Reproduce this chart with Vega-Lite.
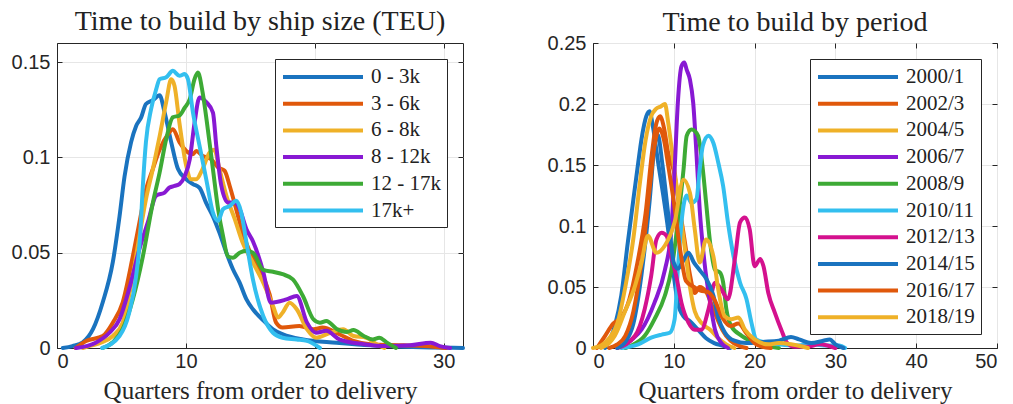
{
"$schema": "https://vega.github.io/schema/vega-lite/v6.json",
"background": "white",
"padding": {"left": 10, "top": 7, "right": 5, "bottom": 0},
"config": {
 "view": {"stroke": "#262626", "strokeWidth": 1},
 "axis": {"labelFont": "Liberation Sans", "labelFontSize": 20, "labelColor": "#262626", "domainColor": "#262626", "tickColor": "#262626", "gridColor": "#e6e6e6", "titleFont": "Liberation Serif", "titleFontSize": 25, "titleFontWeight": "normal", "titleColor": "#262626", "tickSize": -5, "labelPadding": 12},
 "axisX": {"labelPadding": 8},
 "title": {"font": "Liberation Serif", "fontSize": 28, "fontWeight": "normal", "color": "#222222"},
 "legend": {"title": null, "orient": "top-right", "offset": 16, "symbolType": "M-1,0H7", "symbolSize": 400, "symbolStrokeWidth": 4, "labelFont": "Liberation Serif", "labelFontSize": 21, "labelColor": "#222222", "labelOffset": 66, "padding": 6, "rowPadding": 4.7, "strokeColor": "#262626", "fillColor": "white", "labelLimit": 300}
},
"datasets": {
 "size": [
{"g":"0 - 3k","q":0.45,"d":0},{"g":"0 - 3k","q":1.2,"d":0.001},{"g":"0 - 3k","q":2,"d":0.003},{"g":"0 - 3k","q":2.8,"d":0.01},{"g":"0 - 3k","q":3.55,"d":0.024},{"g":"0 - 3k","q":4.33,"d":0.045},{"g":"0 - 3k","q":4.85,"d":0.069},{"g":"0 - 3k","q":5.24,"d":0.09},{"g":"0 - 3k","q":5.75,"d":0.108},{"g":"0 - 3k","q":6.14,"d":0.1165},{"g":"0 - 3k","q":6.53,"d":0.121},{"g":"0 - 3k","q":6.9,"d":0.128},{"g":"0 - 3k","q":7.44,"d":0.13},{"g":"0 - 3k","q":7.96,"d":0.1326},{"g":"0 - 3k","q":8.35,"d":0.1235},{"g":"0 - 3k","q":8.86,"d":0.108},{"g":"0 - 3k","q":9.38,"d":0.094},{"g":"0 - 3k","q":10.03,"d":0.0885},{"g":"0 - 3k","q":10.55,"d":0.086},{"g":"0 - 3k","q":11.06,"d":0.084},{"g":"0 - 3k","q":11.58,"d":0.076},{"g":"0 - 3k","q":12.1,"d":0.069},{"g":"0 - 3k","q":12.6,"d":0.0605},{"g":"0 - 3k","q":13.14,"d":0.05},{"g":"0 - 3k","q":13.65,"d":0.0413},{"g":"0 - 3k","q":14.17,"d":0.0343},{"g":"0 - 3k","q":14.7,"d":0.0255},{"g":"0 - 3k","q":15.2,"d":0.0203},{"g":"0 - 3k","q":16,"d":0.0145},{"g":"0 - 3k","q":16.76,"d":0.0098},{"g":"0 - 3k","q":17.53,"d":0.0072},{"g":"0 - 3k","q":19.1,"d":0.0045},{"g":"0 - 3k","q":21.7,"d":0.0028},{"g":"0 - 3k","q":24.3,"d":0.0014},{"g":"0 - 3k","q":26.9,"d":0.0007},{"g":"0 - 3k","q":29,"d":0.0003},{"g":"0 - 3k","q":31.5,"d":0},
{"g":"3 - 6k","q":1.45,"d":0},{"g":"3 - 6k","q":2.26,"d":0.0037},{"g":"3 - 6k","q":3.55,"d":0.0063},{"g":"3 - 6k","q":4.33,"d":0.0133},{"g":"3 - 6k","q":5.1,"d":0.024},{"g":"3 - 6k","q":5.88,"d":0.048},{"g":"3 - 6k","q":6.4,"d":0.066},{"g":"3 - 6k","q":6.9,"d":0.083},{"g":"3 - 6k","q":7.44,"d":0.094},{"g":"3 - 6k","q":7.96,"d":0.104},{"g":"3 - 6k","q":8.6,"d":0.112},{"g":"3 - 6k","q":8.99,"d":0.1148},{"g":"3 - 6k","q":9.5,"d":0.108},{"g":"3 - 6k","q":10.03,"d":0.1034},{"g":"3 - 6k","q":10.55,"d":0.1017},{"g":"3 - 6k","q":10.8,"d":0.1034},{"g":"3 - 6k","q":11.3,"d":0.1008},{"g":"3 - 6k","q":11.97,"d":0.099},{"g":"3 - 6k","q":12.5,"d":0.0947},{"g":"3 - 6k","q":13,"d":0.093},{"g":"3 - 6k","q":13.4,"d":0.085},{"g":"3 - 6k","q":13.9,"d":0.0728},{"g":"3 - 6k","q":14.4,"d":0.0605},{"g":"3 - 6k","q":15.2,"d":0.047},{"g":"3 - 6k","q":15.98,"d":0.0378},{"g":"3 - 6k","q":16.5,"d":0.028},{"g":"3 - 6k","q":17,"d":0.0133},{"g":"3 - 6k","q":17.5,"d":0.0107},{"g":"3 - 6k","q":18.8,"d":0.0115},{"g":"3 - 6k","q":19.9,"d":0.0098},{"g":"3 - 6k","q":20.6,"d":0.0107},{"g":"3 - 6k","q":21.9,"d":0.0072},{"g":"3 - 6k","q":23,"d":0.0037},{"g":"3 - 6k","q":24.3,"d":0.002},{"g":"3 - 6k","q":26.9,"d":0.0014},{"g":"3 - 6k","q":29.2,"d":0.0007},{"g":"3 - 6k","q":30.2,"d":0},
{"g":"6 - 8k","q":2,"d":0},{"g":"6 - 8k","q":2.5,"d":0.001},{"g":"6 - 8k","q":3.5,"d":0.003},{"g":"6 - 8k","q":4.33,"d":0.0063},{"g":"6 - 8k","q":5.1,"d":0.0133},{"g":"6 - 8k","q":5.88,"d":0.0378},{"g":"6 - 8k","q":6.4,"d":0.0588},{"g":"6 - 8k","q":6.9,"d":0.078},{"g":"6 - 8k","q":7.44,"d":0.094},{"g":"6 - 8k","q":7.96,"d":0.111},{"g":"6 - 8k","q":8.47,"d":0.129},{"g":"6 - 8k","q":8.86,"d":0.141},{"g":"6 - 8k","q":9.12,"d":0.1375},{"g":"6 - 8k","q":9.5,"d":0.118},{"g":"6 - 8k","q":10.03,"d":0.0955},{"g":"6 - 8k","q":10.42,"d":0.0885},{"g":"6 - 8k","q":10.8,"d":0.0885},{"g":"6 - 8k","q":11.3,"d":0.094},{"g":"6 - 8k","q":11.84,"d":0.1025},{"g":"6 - 8k","q":12.2,"d":0.104},{"g":"6 - 8k","q":12.6,"d":0.094},{"g":"6 - 8k","q":13.14,"d":0.08},{"g":"6 - 8k","q":13.8,"d":0.0675},{"g":"6 - 8k","q":14.4,"d":0.0553},{"g":"6 - 8k","q":15.2,"d":0.0448},{"g":"6 - 8k","q":16,"d":0.0343},{"g":"6 - 8k","q":16.76,"d":0.022},{"g":"6 - 8k","q":17.15,"d":0.016},{"g":"6 - 8k","q":17.5,"d":0.0185},{"g":"6 - 8k","q":18.05,"d":0.0238},{"g":"6 - 8k","q":18.6,"d":0.0203},{"g":"6 - 8k","q":19.4,"d":0.0098},{"g":"6 - 8k","q":20.1,"d":0.0054},{"g":"6 - 8k","q":21.2,"d":0.008},{"g":"6 - 8k","q":22.2,"d":0.0098},{"g":"6 - 8k","q":23,"d":0.0063},{"g":"6 - 8k","q":24,"d":0.0054},{"g":"6 - 8k","q":24.8,"d":0.002},{"g":"6 - 8k","q":25.4,"d":0},
{"g":"8 - 12k","q":1.48,"d":0},{"g":"8 - 12k","q":3,"d":0.0028},{"g":"8 - 12k","q":4.07,"d":0.008},{"g":"8 - 12k","q":4.85,"d":0.015},{"g":"8 - 12k","q":5.6,"d":0.031},{"g":"8 - 12k","q":6.4,"d":0.052},{"g":"8 - 12k","q":7.05,"d":0.066},{"g":"8 - 12k","q":7.7,"d":0.08},{"g":"8 - 12k","q":8.35,"d":0.0815},{"g":"8 - 12k","q":8.73,"d":0.0842},{"g":"8 - 12k","q":9.12,"d":0.085},{"g":"8 - 12k","q":9.5,"d":0.086},{"g":"8 - 12k","q":9.9,"d":0.09},{"g":"8 - 12k","q":10.3,"d":0.099},{"g":"8 - 12k","q":10.67,"d":0.118},{"g":"8 - 12k","q":11.06,"d":0.1314},{"g":"8 - 12k","q":11.58,"d":0.129},{"g":"8 - 12k","q":12.1,"d":0.1235},{"g":"8 - 12k","q":12.36,"d":0.106},{"g":"8 - 12k","q":12.75,"d":0.085},{"g":"8 - 12k","q":13.27,"d":0.0763},{"g":"8 - 12k","q":13.8,"d":0.0763},{"g":"8 - 12k","q":14.17,"d":0.0728},{"g":"8 - 12k","q":14.7,"d":0.0623},{"g":"8 - 12k","q":15.2,"d":0.056},{"g":"8 - 12k","q":16,"d":0.04},{"g":"8 - 12k","q":16.6,"d":0.0238},{"g":"8 - 12k","q":17.8,"d":0.0255},{"g":"8 - 12k","q":18.6,"d":0.0273},{"g":"8 - 12k","q":19.4,"d":0.0133},{"g":"8 - 12k","q":20.1,"d":0.008},{"g":"8 - 12k","q":20.9,"d":0.009},{"g":"8 - 12k","q":21.9,"d":0.0045},{"g":"8 - 12k","q":23.8,"d":0.002},{"g":"8 - 12k","q":25.6,"d":0.001},{"g":"8 - 12k","q":27.4,"d":0.0014},{"g":"8 - 12k","q":29,"d":0.0028},{"g":"8 - 12k","q":29.7,"d":0.001},{"g":"8 - 12k","q":30.5,"d":0},
{"g":"12 - 17k","q":3.55,"d":0},{"g":"12 - 17k","q":4.33,"d":0.003},{"g":"12 - 17k","q":5.1,"d":0.01},{"g":"12 - 17k","q":5.88,"d":0.0255},{"g":"12 - 17k","q":6.66,"d":0.048},{"g":"12 - 17k","q":7.44,"d":0.0763},{"g":"12 - 17k","q":7.96,"d":0.092},{"g":"12 - 17k","q":8.47,"d":0.1095},{"g":"12 - 17k","q":8.99,"d":0.121},{"g":"12 - 17k","q":9.5,"d":0.122},{"g":"12 - 17k","q":9.9,"d":0.126},{"g":"12 - 17k","q":10.3,"d":0.1305},{"g":"12 - 17k","q":10.67,"d":0.141},{"g":"12 - 17k","q":10.93,"d":0.1445},{"g":"12 - 17k","q":11.3,"d":0.134},{"g":"12 - 17k","q":11.7,"d":0.1148},{"g":"12 - 17k","q":12.1,"d":0.0938},{"g":"12 - 17k","q":12.5,"d":0.0728},{"g":"12 - 17k","q":12.88,"d":0.0588},{"g":"12 - 17k","q":13.27,"d":0.048},{"g":"12 - 17k","q":13.65,"d":0.0474},{"g":"12 - 17k","q":14.17,"d":0.05},{"g":"12 - 17k","q":14.7,"d":0.051},{"g":"12 - 17k","q":15.2,"d":0.05},{"g":"12 - 17k","q":16,"d":0.041},{"g":"12 - 17k","q":16.76,"d":0.04},{"g":"12 - 17k","q":17.5,"d":0.0387},{"g":"12 - 17k","q":18.3,"d":0.036},{"g":"12 - 17k","q":19.1,"d":0.027},{"g":"12 - 17k","q":19.9,"d":0.015},{"g":"12 - 17k","q":20.4,"d":0.0133},{"g":"12 - 17k","q":20.9,"d":0.0142},{"g":"12 - 17k","q":21.7,"d":0.01},{"g":"12 - 17k","q":22.5,"d":0.0084},{"g":"12 - 17k","q":23,"d":0.0094},{"g":"12 - 17k","q":23.8,"d":0.0063},{"g":"12 - 17k","q":24.5,"d":0.0045},{"g":"12 - 17k","q":25,"d":0.0054},{"g":"12 - 17k","q":25.6,"d":0.0028},{"g":"12 - 17k","q":26.3,"d":0},
{"g":"17k+","q":3.5,"d":0},{"g":"17k+","q":4.85,"d":0.0063},{"g":"17k+","q":5.6,"d":0.0185},{"g":"17k+","q":6.14,"d":0.0378},{"g":"17k+","q":6.45,"d":0.0588},{"g":"17k+","q":6.66,"d":0.085},{"g":"17k+","q":6.9,"d":0.108},{"g":"17k+","q":7.3,"d":0.1253},{"g":"17k+","q":7.7,"d":0.1358},{"g":"17k+","q":7.96,"d":0.141},{"g":"17k+","q":8.47,"d":0.142},{"g":"17k+","q":8.99,"d":0.1454},{"g":"17k+","q":9.5,"d":0.1428},{"g":"17k+","q":9.9,"d":0.1437},{"g":"17k+","q":10.16,"d":0.141},{"g":"17k+","q":10.55,"d":0.1235},{"g":"17k+","q":11.06,"d":0.106},{"g":"17k+","q":11.58,"d":0.0885},{"g":"17k+","q":12.1,"d":0.071},{"g":"17k+","q":12.5,"d":0.0667},{"g":"17k+","q":12.88,"d":0.0728},{"g":"17k+","q":13.4,"d":0.0745},{"g":"17k+","q":13.9,"d":0.0772},{"g":"17k+","q":14.3,"d":0.071},{"g":"17k+","q":14.7,"d":0.0553},{"g":"17k+","q":15.2,"d":0.036},{"g":"17k+","q":16,"d":0.0168},{"g":"17k+","q":16.76,"d":0.008},{"g":"17k+","q":17.5,"d":0.0054},{"g":"17k+","q":18.6,"d":0.0045},{"g":"17k+","q":19.4,"d":0.0037},{"g":"17k+","q":20.4,"d":0}
 ],
 "period": [
{"g":"2000/1","q":1.5,"d":0},{"g":"2000/1","q":2.7,"d":0.018},{"g":"2000/1","q":3.5,"d":0.043},{"g":"2000/1","q":4.3,"d":0.086},{"g":"2000/1","q":5,"d":0.122},{"g":"2000/1","q":5.6,"d":0.152},{"g":"2000/1","q":6,"d":0.171},{"g":"2000/1","q":6.6,"d":0.19},{"g":"2000/1","q":7,"d":0.194},{"g":"2000/1","q":7.4,"d":0.182},{"g":"2000/1","q":8.06,"d":0.152},{"g":"2000/1","q":8.7,"d":0.125},{"g":"2000/1","q":9.3,"d":0.097},{"g":"2000/1","q":9.9,"d":0.0645},{"g":"2000/1","q":10.5,"d":0.037},{"g":"2000/1","q":11.2,"d":0.026},{"g":"2000/1","q":12,"d":0.022},{"g":"2000/1","q":13,"d":0.015},{"g":"2000/1","q":14,"d":0.008},{"g":"2000/1","q":15,"d":0.004},{"g":"2000/1","q":16,"d":0.002},{"g":"2000/1","q":17,"d":0},
{"g":"2002/3","q":0.5,"d":0},{"g":"2002/3","q":1.5,"d":0.01},{"g":"2002/3","q":2.5,"d":0.02},{"g":"2002/3","q":3.5,"d":0.025},{"g":"2002/3","q":4.5,"d":0.04},{"g":"2002/3","q":5.5,"d":0.07},{"g":"2002/3","q":6.5,"d":0.11},{"g":"2002/3","q":7.3,"d":0.16},{"g":"2002/3","q":7.8,"d":0.183},{"g":"2002/3","q":8.3,"d":0.19},{"g":"2002/3","q":8.8,"d":0.18},{"g":"2002/3","q":9.3,"d":0.16},{"g":"2002/3","q":10,"d":0.145},{"g":"2002/3","q":10.6,"d":0.12},{"g":"2002/3","q":11.3,"d":0.09},{"g":"2002/3","q":12,"d":0.06},{"g":"2002/3","q":12.6,"d":0.045},{"g":"2002/3","q":13.2,"d":0.05},{"g":"2002/3","q":14,"d":0.046},{"g":"2002/3","q":15,"d":0.03},{"g":"2002/3","q":16,"d":0.015},{"g":"2002/3","q":17,"d":0.006},{"g":"2002/3","q":18,"d":0.002},{"g":"2002/3","q":19,"d":0},
{"g":"2004/5","q":0,"d":0},{"g":"2004/5","q":1,"d":0.002},{"g":"2004/5","q":2,"d":0.008},{"g":"2004/5","q":3,"d":0.02},{"g":"2004/5","q":4,"d":0.05},{"g":"2004/5","q":5,"d":0.09},{"g":"2004/5","q":5.8,"d":0.135},{"g":"2004/5","q":6.5,"d":0.17},{"g":"2004/5","q":7.2,"d":0.19},{"g":"2004/5","q":7.8,"d":0.196},{"g":"2004/5","q":8.4,"d":0.198},{"g":"2004/5","q":8.9,"d":0.2},{"g":"2004/5","q":9.3,"d":0.185},{"g":"2004/5","q":9.8,"d":0.16},{"g":"2004/5","q":10.3,"d":0.135},{"g":"2004/5","q":11,"d":0.1},{"g":"2004/5","q":11.5,"d":0.075},{"g":"2004/5","q":12,"d":0.05},{"g":"2004/5","q":12.6,"d":0.03},{"g":"2004/5","q":13.5,"d":0.02},{"g":"2004/5","q":14.5,"d":0.015},{"g":"2004/5","q":15.5,"d":0.008},{"g":"2004/5","q":16.5,"d":0.003},{"g":"2004/5","q":17.5,"d":0},
{"g":"2006/7","q":3,"d":0},{"g":"2006/7","q":4,"d":0.003},{"g":"2006/7","q":5,"d":0.008},{"g":"2006/7","q":6,"d":0.015},{"g":"2006/7","q":7.6,"d":0.037},{"g":"2006/7","q":8.9,"d":0.064},{"g":"2006/7","q":9.7,"d":0.097},{"g":"2006/7","q":10.1,"d":0.146},{"g":"2006/7","q":10.5,"d":0.201},{"g":"2006/7","q":10.95,"d":0.231},{"g":"2006/7","q":11.3,"d":0.234},{"g":"2006/7","q":11.6,"d":0.228},{"g":"2006/7","q":12,"d":0.22},{"g":"2006/7","q":12.4,"d":0.201},{"g":"2006/7","q":12.8,"d":0.16},{"g":"2006/7","q":13.2,"d":0.114},{"g":"2006/7","q":13.8,"d":0.07},{"g":"2006/7","q":14.5,"d":0.037},{"g":"2006/7","q":15.1,"d":0.015},{"g":"2006/7","q":15.9,"d":0.004},{"g":"2006/7","q":16.7,"d":0},
{"g":"2008/9","q":4,"d":0},{"g":"2008/9","q":4.75,"d":0.002},{"g":"2008/9","q":6.4,"d":0.01},{"g":"2008/9","q":7.6,"d":0.0235},{"g":"2008/9","q":8.9,"d":0.043},{"g":"2008/9","q":9.7,"d":0.064},{"g":"2008/9","q":10.5,"d":0.103},{"g":"2008/9","q":11.2,"d":0.146},{"g":"2008/9","q":11.6,"d":0.174},{"g":"2008/9","q":12.2,"d":0.179},{"g":"2008/9","q":13,"d":0.174},{"g":"2008/9","q":13.6,"d":0.146},{"g":"2008/9","q":14,"d":0.119},{"g":"2008/9","q":14.5,"d":0.086},{"g":"2008/9","q":15.1,"d":0.064},{"g":"2008/9","q":15.7,"d":0.062},{"g":"2008/9","q":16.1,"d":0.054},{"g":"2008/9","q":16.5,"d":0.032},{"g":"2008/9","q":17.1,"d":0.018},{"g":"2008/9","q":18.4,"d":0.01},{"g":"2008/9","q":20,"d":0.0045},{"g":"2008/9","q":21.7,"d":0.0015},{"g":"2008/9","q":23,"d":0},
{"g":"2010/11","q":3.5,"d":0},{"g":"2010/11","q":5.6,"d":0.003},{"g":"2010/11","q":7.2,"d":0.0085},{"g":"2010/11","q":8.5,"d":0.011},{"g":"2010/11","q":9.5,"d":0.0125},{"g":"2010/11","q":10.1,"d":0.0235},{"g":"2010/11","q":10.5,"d":0.064},{"g":"2010/11","q":10.95,"d":0.103},{"g":"2010/11","q":11.6,"d":0.125},{"g":"2010/11","q":12.2,"d":0.119},{"g":"2010/11","q":12.8,"d":0.122},{"g":"2010/11","q":13.2,"d":0.146},{"g":"2010/11","q":13.6,"d":0.166},{"g":"2010/11","q":14.3,"d":0.174},{"g":"2010/11","q":14.9,"d":0.168},{"g":"2010/11","q":15.5,"d":0.152},{"g":"2010/11","q":16.1,"d":0.133},{"g":"2010/11","q":16.7,"d":0.103},{"g":"2010/11","q":17.4,"d":0.075},{"g":"2010/11","q":18.2,"d":0.0535},{"g":"2010/11","q":19,"d":0.04},{"g":"2010/11","q":19.6,"d":0.021},{"g":"2010/11","q":20.2,"d":0.007},{"g":"2010/11","q":21.3,"d":0.0045},{"g":"2010/11","q":23,"d":0.003},{"g":"2010/11","q":25,"d":0.002},{"g":"2010/11","q":27,"d":0.003},{"g":"2010/11","q":29,"d":0.002},{"g":"2010/11","q":30.5,"d":0.002},{"g":"2010/11","q":31.2,"d":0},
{"g":"2012/13","q":3,"d":0},{"g":"2012/13","q":5.2,"d":0.01},{"g":"2012/13","q":6.4,"d":0.032},{"g":"2012/13","q":7.2,"d":0.059},{"g":"2012/13","q":7.85,"d":0.089},{"g":"2012/13","q":8.5,"d":0.0945},{"g":"2012/13","q":9.1,"d":0.092},{"g":"2012/13","q":9.7,"d":0.075},{"g":"2012/13","q":10.3,"d":0.059},{"g":"2012/13","q":10.95,"d":0.037},{"g":"2012/13","q":11.8,"d":0.021},{"g":"2012/13","q":12.6,"d":0.015},{"g":"2012/13","q":13.4,"d":0.015},{"g":"2012/13","q":14.3,"d":0.032},{"g":"2012/13","q":15.1,"d":0.0535},{"g":"2012/13","q":15.9,"d":0.048},{"g":"2012/13","q":16.7,"d":0.04},{"g":"2012/13","q":17.6,"d":0.075},{"g":"2012/13","q":18.2,"d":0.103},{"g":"2012/13","q":18.8,"d":0.107},{"g":"2012/13","q":19.4,"d":0.097},{"g":"2012/13","q":20,"d":0.067},{"g":"2012/13","q":20.7,"d":0.073},{"g":"2012/13","q":21.1,"d":0.067},{"g":"2012/13","q":21.7,"d":0.045},{"g":"2012/13","q":22.5,"d":0.029},{"g":"2012/13","q":23.3,"d":0.015},{"g":"2012/13","q":24,"d":0.0045},{"g":"2012/13","q":25,"d":0.001},{"g":"2012/13","q":26.5,"d":0.001},{"g":"2012/13","q":28,"d":0.003},{"g":"2012/13","q":29,"d":0.002},{"g":"2012/13","q":30,"d":0},
{"g":"2014/15","q":3,"d":0},{"g":"2014/15","q":4,"d":0.005},{"g":"2014/15","q":5,"d":0.02},{"g":"2014/15","q":6,"d":0.06},{"g":"2014/15","q":7,"d":0.12},{"g":"2014/15","q":7.6,"d":0.165},{"g":"2014/15","q":8,"d":0.175},{"g":"2014/15","q":8.6,"d":0.15},{"g":"2014/15","q":9.3,"d":0.11},{"g":"2014/15","q":10,"d":0.07},{"g":"2014/15","q":10.5,"d":0.065},{"g":"2014/15","q":11.2,"d":0.072},{"g":"2014/15","q":11.8,"d":0.078},{"g":"2014/15","q":12.5,"d":0.07},{"g":"2014/15","q":13.3,"d":0.063},{"g":"2014/15","q":14,"d":0.057},{"g":"2014/15","q":14.9,"d":0.043},{"g":"2014/15","q":15.5,"d":0.025},{"g":"2014/15","q":16.3,"d":0.013},{"g":"2014/15","q":17.5,"d":0.006},{"g":"2014/15","q":19,"d":0.004},{"g":"2014/15","q":21,"d":0.005},{"g":"2014/15","q":23,"d":0.006},{"g":"2014/15","q":24.5,"d":0.009},{"g":"2014/15","q":25.5,"d":0.007},{"g":"2014/15","q":27,"d":0.004},{"g":"2014/15","q":28.5,"d":0.006},{"g":"2014/15","q":29.3,"d":0.007},{"g":"2014/15","q":30,"d":0.003},{"g":"2014/15","q":31,"d":0},
{"g":"2016/17","q":2,"d":0},{"g":"2016/17","q":3,"d":0.003},{"g":"2016/17","q":4,"d":0.01},{"g":"2016/17","q":5,"d":0.03},{"g":"2016/17","q":6,"d":0.07},{"g":"2016/17","q":7,"d":0.13},{"g":"2016/17","q":7.6,"d":0.165},{"g":"2016/17","q":8.2,"d":0.18},{"g":"2016/17","q":8.8,"d":0.17},{"g":"2016/17","q":9.3,"d":0.15},{"g":"2016/17","q":10,"d":0.12},{"g":"2016/17","q":10.8,"d":0.08},{"g":"2016/17","q":11.5,"d":0.055},{"g":"2016/17","q":12.5,"d":0.05},{"g":"2016/17","q":13.3,"d":0.047},{"g":"2016/17","q":14.2,"d":0.046},{"g":"2016/17","q":15,"d":0.04},{"g":"2016/17","q":16,"d":0.025},{"g":"2016/17","q":17,"d":0.018},{"g":"2016/17","q":18,"d":0.02},{"g":"2016/17","q":19,"d":0.012},{"g":"2016/17","q":20,"d":0.004},{"g":"2016/17","q":21,"d":0.001},{"g":"2016/17","q":22,"d":0},
{"g":"2018/19","q":1,"d":0},{"g":"2018/19","q":2,"d":0.004},{"g":"2018/19","q":2.7,"d":0.01},{"g":"2018/19","q":3.9,"d":0.029},{"g":"2018/19","q":5.2,"d":0.051},{"g":"2018/19","q":6,"d":0.07},{"g":"2018/19","q":6.8,"d":0.092},{"g":"2018/19","q":7.85,"d":0.078},{"g":"2018/19","q":8.9,"d":0.084},{"g":"2018/19","q":10.1,"d":0.103},{"g":"2018/19","q":11.2,"d":0.138},{"g":"2018/19","q":12,"d":0.127},{"g":"2018/19","q":12.6,"d":0.097},{"g":"2018/19","q":13.2,"d":0.07},{"g":"2018/19","q":14,"d":0.089},{"g":"2018/19","q":14.9,"d":0.075},{"g":"2018/19","q":15.5,"d":0.048},{"g":"2018/19","q":16.3,"d":0.026},{"g":"2018/19","q":17.1,"d":0.0235},{"g":"2018/19","q":18,"d":0.025},{"g":"2018/19","q":18.8,"d":0.015},{"g":"2018/19","q":20,"d":0.007},{"g":"2018/19","q":21.7,"d":0.003},{"g":"2018/19","q":23,"d":0.004},{"g":"2018/19","q":24.5,"d":0.003},{"g":"2018/19","q":26,"d":0.001},{"g":"2018/19","q":26.6,"d":0}
 ]
},
"spacing": 80,
"resolve": {"scale": {"color": "independent"}, "legend": {"color": "independent"}},
"hconcat": [
 {
  "width": 406, "height": 305,
  "title": {"text": "Time to build by ship size (TEU)", "offset": 7},
  "data": {"name": "size"},
  "resolve": {"axis": {"x": "independent", "y": "independent"}},
  "layer": [
   {"mark": {"type": "line", "strokeWidth": 4, "interpolate": "monotone", "strokeJoin": "round", "strokeCap": "round"},
    "encoding": {
     "x": {"field": "q", "type": "quantitative", "scale": {"domain": [0, 31.5], "nice": false}, "axis": {"values": [0, 10, 20, 30], "title": "Quarters from order to delivery", "titlePadding": 7, "grid": true}},
     "y": {"field": "d", "type": "quantitative", "scale": {"domain": [0, 0.16], "nice": false}, "axis": {"values": [0, 0.05, 0.1, 0.15], "format": "~g", "title": null, "grid": true}},
     "color": {"field": "g", "type": "nominal", "scale": {"domain": ["0 - 3k", "3 - 6k", "6 - 8k", "8 - 12k", "12 - 17k", "17k+"], "range": ["#1A73BF", "#E0580B", "#EFB128", "#8819D3", "#3DAA35", "#33BFEF"]}, "legend": {}}
    }},
   {"mark": {"type": "line", "opacity": 0},
    "encoding": {
     "x": {"field": "q", "type": "quantitative", "axis": {"orient": "top", "values": [0, 10, 20, 30], "labels": false, "grid": false, "title": null, "domain": false}},
     "y": {"field": "d", "type": "quantitative", "axis": {"orient": "right", "values": [0, 0.05, 0.1, 0.15], "labels": false, "grid": false, "title": null, "domain": false}},
     "detail": {"field": "g"}
    }}
  ]
 },
 {
  "width": 404, "height": 305,
  "title": {"text": "Time to build by period", "offset": -4},
  "data": {"name": "period"},
  "resolve": {"axis": {"x": "independent", "y": "independent"}},
  "layer": [
   {"mark": {"type": "line", "strokeWidth": 4, "interpolate": "monotone", "strokeJoin": "round", "strokeCap": "round"},
    "encoding": {
     "x": {"field": "q", "type": "quantitative", "scale": {"domain": [0, 50], "nice": false}, "axis": {"values": [0, 10, 20, 30, 40, 50], "title": "Quarters from order to delivery", "titlePadding": 7, "grid": true}},
     "y": {"field": "d", "type": "quantitative", "scale": {"domain": [0, 0.25], "nice": false}, "axis": {"values": [0, 0.05, 0.1, 0.15, 0.2, 0.25], "format": "~g", "title": null, "grid": true}},
     "color": {"field": "g", "type": "nominal", "scale": {"domain": ["2000/1", "2002/3", "2004/5", "2006/7", "2008/9", "2010/11", "2012/13", "2014/15", "2016/17", "2018/19"], "range": ["#1A73BF", "#E0580B", "#EFB128", "#8819D3", "#3DAA35", "#33BFEF", "#D4118E", "#1A73BF", "#E0580B", "#EFB128"]}, "legend": {}}
    }},
   {"mark": {"type": "line", "opacity": 0},
    "encoding": {
     "x": {"field": "q", "type": "quantitative", "axis": {"orient": "top", "values": [0, 10, 20, 30, 40, 50], "labels": false, "grid": false, "title": null, "domain": false}},
     "y": {"field": "d", "type": "quantitative", "axis": {"orient": "right", "values": [0, 0.05, 0.1, 0.15, 0.2, 0.25], "labels": false, "grid": false, "title": null, "domain": false}},
     "detail": {"field": "g"}
    }}
  ]
 }
]
}
